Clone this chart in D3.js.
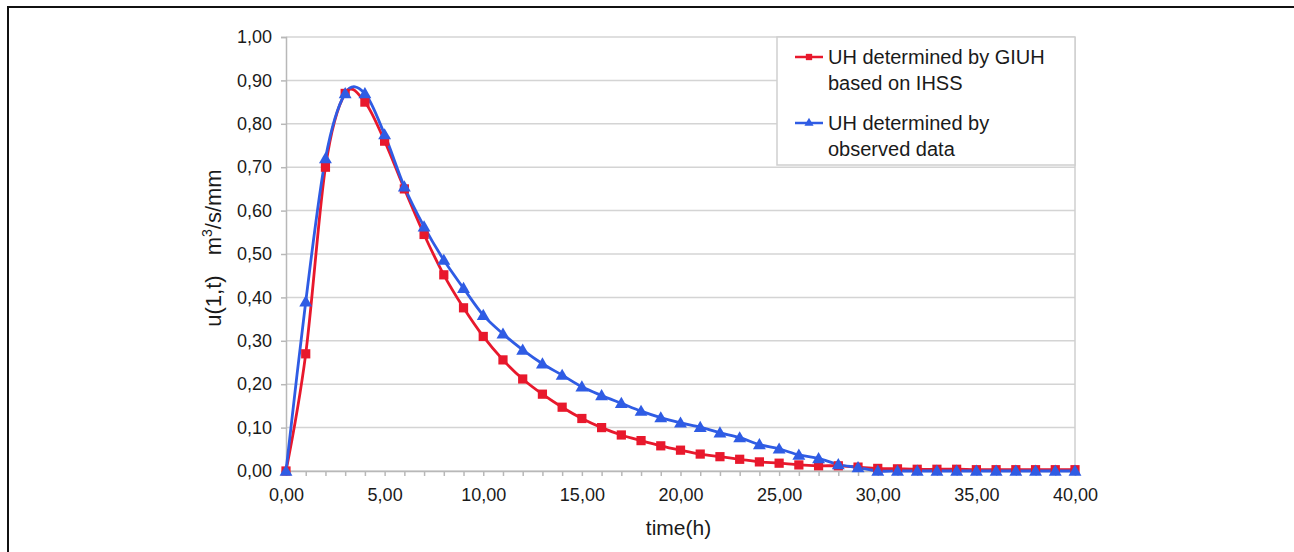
<!DOCTYPE html>
<html>
<head>
<meta charset="utf-8">
<script src="https://cdn.jsdelivr.net/npm/d3@7"></script>
<style>
  body { margin: 0; background: #fff; }
  svg { display: block; font-family: "Liberation Sans", Arial, sans-serif; }
</style>
</head>
<body>
<div id="chart"></div>
<script>
// hours 0..40
var hours = [0,1,2,3,4,5,6,7,8,9,10,11,12,13,14,15,16,17,18,19,20,
             21,22,23,24,25,26,27,28,29,30,31,32,33,34,35,36,37,38,39,40];

// UH determined by GIUH based on IHSS
var giuhValues = [0, 0.27, 0.70, 0.87, 0.85, 0.76, 0.65, 0.545, 0.452, 0.376, 0.31,
                  0.256, 0.212, 0.177, 0.147, 0.121, 0.10, 0.083, 0.07, 0.058, 0.048,
                  0.039, 0.033, 0.027, 0.021, 0.018, 0.014, 0.012, 0.012, 0.009, 0.006,
                  0.005, 0.004, 0.004, 0.004, 0.003, 0.003, 0.003, 0.003, 0.003, 0.003];

// UH determined by observed data
var observedValues = [0, 0.39, 0.72, 0.87, 0.87, 0.775, 0.655, 0.563, 0.486, 0.421, 0.359,
                      0.316, 0.279, 0.247, 0.221, 0.194, 0.174, 0.156, 0.138, 0.123, 0.111,
                      0.101, 0.088, 0.077, 0.061, 0.051, 0.037, 0.029, 0.015, 0.008, 0,
                      0, 0, 0, 0, 0, 0, 0, 0, 0, 0];

var yTicks = [0, 0.1, 0.2, 0.3, 0.4, 0.5, 0.6, 0.7, 0.8, 0.9, 1.0];
var xTicks = [0, 5, 10, 15, 20, 25, 30, 35, 40];

var legendLabels = [["UH determined by GIUH", "based on IHSS"],
                    ["UH determined by", "observed data"]];

var red = "#e8182c", blue = "#2f5ce4";

var width = 1294, height = 552;
var plot = {left: 286, right: 1075, top: 37, bottom: 471};

var svg = d3.select("#chart").append("svg")
    .attr("width", width)
    .attr("height", height);

// outer frame (top + left)
svg.append("path")
    .attr("d", "M8,552 L8,7 L1294,7")
    .attr("fill", "none")
    .attr("stroke", "#111")
    .attr("stroke-width", 2);

var x = d3.scaleLinear().domain([0, 40]).range([plot.left, plot.right]);
var y = d3.scaleLinear().domain([0, 1]).range([plot.bottom, plot.top]);

var fmt = function(d){ return d3.format(".2f")(d).replace(".", ","); };

// grid lines
svg.append("g").selectAll("line").data(yTicks).enter().append("line")
    .attr("x1", plot.left).attr("x2", plot.right)
    .attr("y1", function(d){ return y(d); })
    .attr("y2", function(d){ return y(d); })
    .attr("stroke", "#d4d4d4")
    .attr("stroke-width", 1.5);

// right edge of plot area
svg.append("line")
    .attr("x1", plot.right).attr("x2", plot.right)
    .attr("y1", plot.top).attr("y2", plot.bottom)
    .attr("stroke", "#cfcfcf").attr("stroke-width", 1.5);

// y axis
var yAxis = svg.append("g")
    .attr("transform", "translate(" + plot.left + ",0)")
    .call(d3.axisLeft(y).tickValues(yTicks).tickFormat(fmt).tickSize(5).tickPadding(9));
yAxis.selectAll("path, line").attr("stroke", "#b8b8b8").attr("stroke-width", 1.5);
yAxis.selectAll("text").style("font-size", "18px").attr("fill", "#1a1a1a");

// x axis: ticks each hour, labels every 5
var xAxis = svg.append("g")
    .attr("transform", "translate(0," + plot.bottom + ")")
    .call(d3.axisBottom(x).tickValues(hours).tickSize(5)
        .tickFormat(function(d){ return xTicks.indexOf(d) >= 0 ? fmt(d) : ""; })
        .tickPadding(12));
xAxis.selectAll("path, line").attr("stroke", "#b8b8b8").attr("stroke-width", 1.5);
xAxis.selectAll("text").style("font-size", "18px").attr("fill", "#1a1a1a");

// axis titles
svg.append("text")
    .attr("x", (plot.left + plot.right) / 2 - 2)
    .attr("y", 535)
    .attr("text-anchor", "middle")
    .style("font-size", "21px")
    .attr("fill", "#1a1a1a")
    .text("time(h)");

var yTitle = svg.append("text")
    .attr("transform", "translate(221,248) rotate(-90)")
    .attr("text-anchor", "middle")
    .style("font-size", "22px")
    .attr("fill", "#1a1a1a");
yTitle.append("tspan").text("u(1,t)");
yTitle.append("tspan").attr("dx", 20).text("m");
yTitle.append("tspan").attr("dy", -9).style("font-size", "14px").text("3");
yTitle.append("tspan").attr("dy", 9).text("/s/mm");

// lines
var line = d3.line()
    .x(function(d){ return x(d[0]); })
    .y(function(d){ return y(d[1]); })
    .curve(d3.curveCardinal.tension(0));

var giuhData = hours.map(function(h, i){ return [h, giuhValues[i]]; });
var obsData = hours.map(function(h, i){ return [h, observedValues[i]]; });

svg.append("path").datum(giuhData)
    .attr("d", line).attr("fill", "none")
    .attr("stroke", red).attr("stroke-width", 2.8);

svg.append("path").datum(obsData)
    .attr("d", line).attr("fill", "none")
    .attr("stroke", blue).attr("stroke-width", 2.8);

var square = d3.symbol().type(d3.symbolSquare).size(85);
var triangle = d3.symbol().type(d3.symbolTriangle).size(72);

svg.append("g").selectAll("path").data(giuhData).enter().append("path")
    .attr("d", square)
    .attr("transform", function(d){ return "translate(" + x(d[0]) + "," + y(d[1]) + ")"; })
    .attr("fill", red);

svg.append("g").selectAll("path").data(obsData).enter().append("path")
    .attr("d", triangle)
    .attr("transform", function(d){ return "translate(" + x(d[0]) + "," + (y(d[1]) + 1) + ")"; })
    .attr("fill", blue);

// legend
var lg = svg.append("g");
lg.append("rect")
    .attr("x", 777).attr("y", 37)
    .attr("width", plot.right - 777).attr("height", 128)
    .attr("fill", "#fff")
    .attr("stroke", "#cfcfcf").attr("stroke-width", 1.5);

var legendColors = [red, blue];
legendLabels.forEach(function(lines, i){
    var top = 64 + i * 66;
    lg.append("line")
        .attr("x1", 795).attr("x2", 823)
        .attr("y1", top - 7).attr("y2", top - 7)
        .attr("stroke", legendColors[i]).attr("stroke-width", 2.5);
    lg.append("path")
        .attr("d", i === 0 ? d3.symbol().type(d3.symbolSquare).size(40)() : d3.symbol().type(d3.symbolTriangle).size(36)())
        .attr("transform", "translate(809," + (top - 7) + ")")
        .attr("fill", legendColors[i]);
    lines.forEach(function(t, j){
        lg.append("text")
            .attr("x", 828).attr("y", top + j * 26)
            .style("font-size", "20px")
            .attr("fill", "#1a1a1a")
            .text(t);
    });
});
</script>
</body>
</html>
